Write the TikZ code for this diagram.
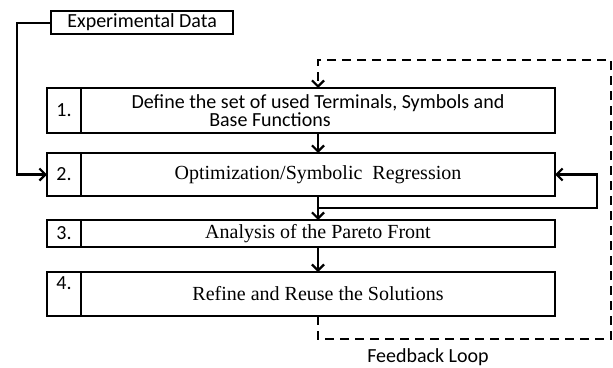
\documentclass[tikz,border=0pt]{standalone}
\usepackage{fontspec}
\setmainfont{Carlito}
\newfontfamily\timesfont{Liberation Serif}
\usetikzlibrary{arrows.meta,positioning,calc}

\begin{document}
\begin{tikzpicture}[x=1pt,y=-1pt,
    node distance=0pt,
    numcell/.style={draw,line width=2.3pt,outer sep=0pt,minimum width=34pt,inner sep=2pt,font=\fontsize{20}{22}\selectfont},
    stepbox/.style={draw,line width=2.3pt,outer sep=0pt,minimum width=474pt,inner sep=2pt,align=center,font=\timesfont\fontsize{20}{22}\selectfont},
    databox/.style={draw,line width=2.3pt,minimum width=182pt,minimum height=23pt,inner sep=2pt,font=\fontsize{20}{22}\selectfont},
    arrow/.style={-{Straight Barb[length=6pt,width=12pt,line width=2.2pt]},line width=2.3pt},
    loopline/.style={line width=2.3pt,dash pattern=on 9pt off 6pt}
  ]
    \useasboundingbox[fill=white] (0,0) rectangle (613,367);

    \node[databox,anchor=north west] (exp) at (50,10) {Experimental Data};

    \node[numcell,minimum height=45pt,anchor=north west] (n1) at (47,88) {1.};
    \node[stepbox,minimum height=45pt,right=of n1,font=\fontsize{20}{17}\selectfont] (b1) {Define the set of used Terminals, Symbols and\\Base Functions\hspace*{96pt}};
    \node[numcell,minimum height=43pt,anchor=north west] (n2) at (47,153) {2.};
    \node[stepbox,minimum height=43pt,right=of n2] (b2) {Optimization/Symbolic\ \ Regression};
    \node[numcell,minimum height=27pt,anchor=north west] (n3) at (47,220) {3.};
    \node[stepbox,minimum height=27pt,right=of n3] (b3) {Analysis of the Pareto Front};
    \node[numcell,minimum height=44pt,text depth=22pt,anchor=north west] (n4) at (47,272) {4.};
    \node[stepbox,minimum height=44pt,right=of n4] (b4) {Refine and Reuse the Solutions};

    \node[font=\fontsize{20}{22}\selectfont] (fbl) at (428,357) {Feedback Loop};

    % main flow
    \draw[arrow] (exp.west) -- ++(-33,0) |- (n2.west);
    \draw[arrow] (b1.south) -- (b2.north);
    \draw[arrow] (b2.south) -- (b3.north);
    \draw[arrow] (b3.south) -- (b4.north);

    % inner loop
    \coordinate (j2) at ($(b2.south)!0.5!(b3.north)$);
    \draw[arrow] (j2) -- ++(279,0) |- (b2.east);

    % feedback loop
    \draw[loopline,arrow] (b4.south) -- ++(0,23) -| (611,60) -| (b1.north);
  \end{tikzpicture}
\end{document}
